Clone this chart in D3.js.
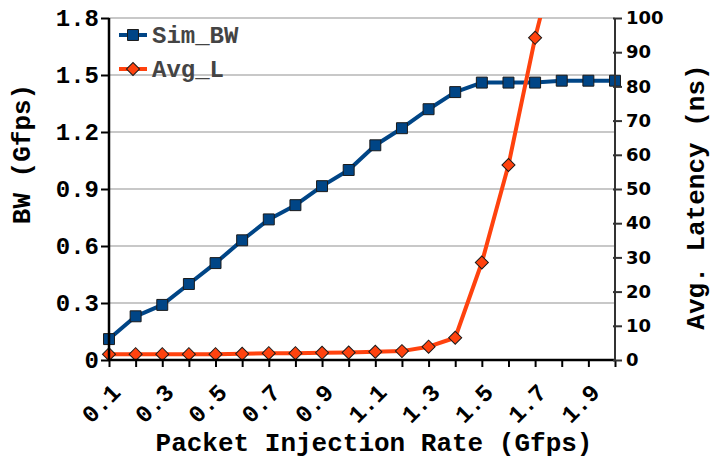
<!DOCTYPE html>
<html>
<head>
<meta charset="utf-8">
<script src="https://cdn.jsdelivr.net/npm/d3@7"></script>
<style>
  body { margin: 0; background: #fff; }
  svg text { font-family: "Liberation Mono", "Courier New", monospace; font-weight: bold; }
  svg .sans text { font-family: "DejaVu Sans", sans-serif; }
</style>
</head>
<body>
<svg></svg>
<script>
let rates = ['0.1', '0.2', '0.3', '0.4', '0.5', '0.6', '0.7', '0.8', '0.9', '1.0',
             '1.1', '1.2', '1.3', '1.4', '1.5', '1.6', '1.7', '1.8', '1.9', '2.0']
let rateLabels = ['0.1', '0.3', '0.5', '0.7', '0.9', '1.1', '1.3', '1.5', '1.7', '1.9']
let simBW = [0.11, 0.23, 0.29, 0.40, 0.51, 0.63, 0.74, 0.815, 0.915, 1.0,
             1.13, 1.22, 1.32, 1.41, 1.46, 1.46, 1.46, 1.47, 1.47, 1.47]
// latency past 1.7 goes off the top of the chart
let avgL = [1.7, 1.7, 1.7, 1.7, 1.7, 1.8, 2.0, 2.0, 2.1, 2.2,
            2.4, 2.6, 3.9, 6.5, 28.5, 57, 94.2, 125, 160, 200]
let bwTicks = [0, 0.3, 0.6, 0.9, 1.2, 1.5, 1.8]
let latTicks = [0, 10, 20, 30, 40, 50, 60, 70, 80, 90, 100]

let width = 714
let height = 458
let plotLeft = 109
let plotRight = 615
let plotTop = 18
let plotBottom = 360

let blue = '#004586'
let orange = '#ff420e'

let svg = d3.select('svg')
    .attr('width', width)
    .attr('height', height)

let xScale = d3.scalePoint()
    .domain(rates)
    .range([plotLeft, plotRight])

let yScale = d3.scaleLinear()
    .domain([0, 1.8])
    .range([plotBottom, plotTop])

let y2Scale = d3.scaleLinear()
    .domain([0, 100])
    .range([plotBottom, plotTop])

// grid lines
svg.append('g')
    .selectAll('line')
    .data(bwTicks.filter((d) => d > 0))
    .enter()
    .append('line')
    .attr('x1', plotLeft)
    .attr('x2', plotRight)
    .attr('y1', (d) => yScale(d))
    .attr('y2', (d) => yScale(d))
    .attr('stroke', '#c8c8c8')
    .attr('stroke-width', 2)

svg.append('clipPath')
    .attr('id', 'plot')
    .append('rect')
    .attr('x', plotLeft - 10)
    .attr('y', plotTop)
    .attr('width', plotRight - plotLeft + 20)
    .attr('height', plotBottom - plotTop + 10)

// markers: squares, or squares turned 45deg for diamonds
let marker = (diamond) => d3.symbol().type(d3.symbolSquare).size(diamond ? 85 : 120)

let drawSeries = (values, scale, color, diamond) => {
    let pts = values.map((d, i) => [xScale(rates[i]), scale(d)])
    let g = svg.append('g').attr('clip-path', 'url(#plot)')
    g.append('path')
        .datum(pts)
        .attr('d', d3.line())
        .attr('fill', 'none')
        .attr('stroke', color)
        .attr('stroke-width', 4)
        .attr('stroke-linejoin', 'round')
    svg.append('g').selectAll('path')
        .data(pts.filter((p) => p[1] >= plotTop))
        .enter()
        .append('path')
        .attr('d', marker(diamond))
        .attr('transform', (p) => 'translate(' + p[0] + ',' + p[1] + ')' + (diamond ? ' rotate(45)' : ''))
        .attr('fill', color)
        .attr('stroke', '#1a1a1a')
        .attr('stroke-width', 1)
}

drawSeries(simBW, yScale, blue, false)
drawSeries(avgL, y2Scale, orange, true)

// axes
let xAxis = d3.axisBottom(xScale)
    .tickSize(7)
    .tickFormat('')
let yAxis = d3.axisLeft(yScale)
    .tickValues(bwTicks)
    .tickSize(8)
    .tickFormat((d) => d == 0 ? '0' : d3.format('.1f')(d))
let y2Axis = d3.axisRight(y2Scale)
    .tickValues(latTicks)
    .tickSize(7)

let gx = svg.append('g')
    .attr('transform', 'translate(0,' + plotBottom + ')')
    .call(xAxis)
gx.select('.domain').attr('stroke', '#000').attr('stroke-width', 2.5).attr('d', 'M' + plotLeft + ',0H' + plotRight)
gx.selectAll('.tick line').attr('stroke', '#000').attr('stroke-width', 2)

gx.selectAll('.lbl')
    .data(rateLabels)
    .enter()
    .append('text')
    .attr('class', 'lbl')
    .attr('transform', (d) => 'translate(' + (xScale(d) + 1) + ',22) rotate(-45)')
    .attr('text-anchor', 'end')
    .attr('dy', '0.7em')
    .attr('font-size', 24)
    .attr('fill', '#000')
    .text((d) => d)

let gy = svg.append('g')
    .attr('transform', 'translate(' + plotLeft + ',0)')
    .call(yAxis)
gy.select('.domain').attr('stroke', '#000').attr('stroke-width', 2.5).attr('d', 'M0,' + plotTop + 'V' + plotBottom)
gy.selectAll('.tick line').attr('stroke', '#000').attr('stroke-width', 2)
gy.selectAll('.tick text')
    .attr('font-size', 24)
    .attr('fill', '#000')
    .attr('x', -10)

let gy2 = svg.append('g')
    .attr('class', 'sans')
    .attr('transform', 'translate(' + plotRight + ',0)')
    .call(y2Axis)
gy2.select('.domain').attr('stroke', '#333').attr('stroke-width', 2).attr('d', 'M0,' + plotTop + 'V' + plotBottom)
gy2.selectAll('.tick line').attr('stroke', '#333').attr('stroke-width', 2).attr('x1', -2)
gy2.selectAll('.tick text')
    .attr('font-size', 18)
    .attr('fill', '#000')
    .attr('x', 11)

// axis titles
svg.append('text')
    .attr('x', 374)
    .attr('y', 451)
    .attr('text-anchor', 'middle')
    .attr('font-size', 26)
    .text('Packet Injection Rate (Gfps)')

svg.append('text')
    .attr('transform', 'translate(30,154) rotate(-90)')
    .attr('text-anchor', 'middle')
    .attr('font-size', 26)
    .text('BW (Gfps)')

svg.append('text')
    .attr('transform', 'translate(704,197) rotate(-90)')
    .attr('text-anchor', 'middle')
    .attr('font-size', 26)
    .text('Avg. Latency (ns)')

// legend
let legend = [['Sim_BW', blue, false, 35], ['Avg_L', orange, true, 69]]
let lg = svg.append('g')
legend.forEach((l) => {
    lg.append('line')
        .attr('x1', 119).attr('x2', 147)
        .attr('y1', l[3]).attr('y2', l[3])
        .attr('stroke', l[1])
        .attr('stroke-width', 4)
    lg.append('path')
        .attr('d', marker(l[2]))
        .attr('transform', 'translate(133,' + l[3] + ')' + (l[2] ? ' rotate(45)' : ''))
        .attr('fill', l[1])
        .attr('stroke', '#1a1a1a')
    lg.append('text')
        .attr('x', 152)
        .attr('y', l[3])
        .attr('dy', '0.35em')
        .attr('font-size', 24)
        .attr('fill', '#444')
        .text(l[0])
})
</script>
</body>
</html>
